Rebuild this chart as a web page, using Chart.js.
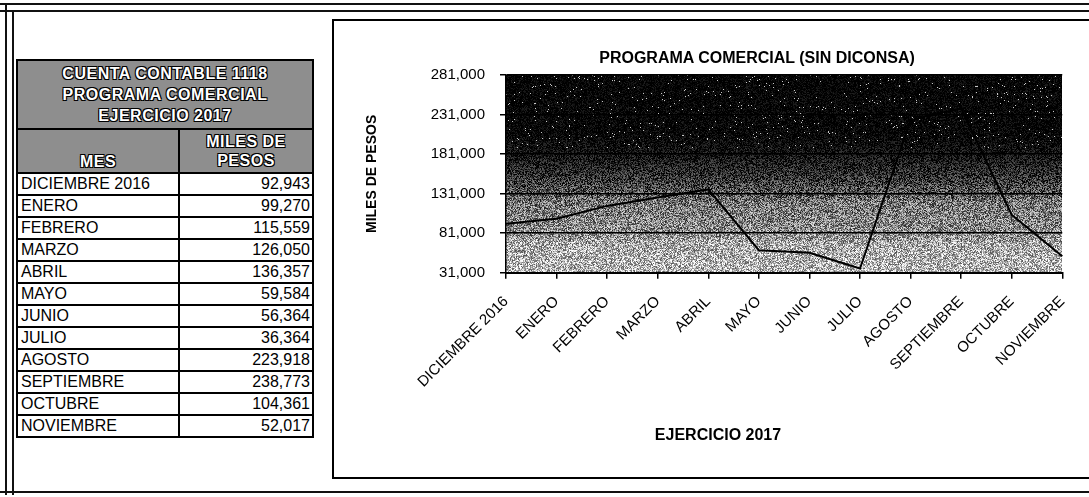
<!DOCTYPE html>
<html>
<head>
<meta charset="utf-8">
<script src="https://cdn.jsdelivr.net/npm/chart.js@4.4.1/dist/chart.umd.min.js"></script>
<style>
  body { margin: 0; background: #fff; width: 1089px; height: 497px; position: relative; overflow: hidden;
         font-family: "Liberation Sans", Arial, sans-serif; color: #000; }
  .linea { position: absolute; background: #111; }
  #caja { position: absolute; left: 332px; top: 19px; width: 770px; height: 460px; border: 2px solid #000; box-sizing: border-box; }
  #lienzo { position: absolute; left: 335px; top: 22px; width: 754px; height: 456px; }
  #titulo { position: absolute; left: 557px; width: 400px; top: 49px; text-align: center; font-weight: bold; font-size: 16px; }
  #tituloX { position: absolute; left: 618px; width: 200px; top: 426px; text-align: center; font-weight: bold; font-size: 16px; }
  table { position: absolute; left: 16px; top: 59px; border-collapse: collapse; font-size: 16px; }
  td { border: 2px solid #000; padding: 0 2px 0 3px; height: 20px; line-height: 20px; white-space: nowrap; }
  td.num { text-align: right; }
  th { border: 2px solid #000; background: #8e8e8e; color: #fff; font-weight: bold; font-size: 16px; letter-spacing: 0.5px;
       text-shadow: -1px -1px 0 #000, 1px -1px 0 #000, -1px 1px 0 #000, 1px 1px 0 #000; }
  th.cab { height: 65px; line-height: 21px; }
  th.sub { height: 40px; line-height: 19px; }
</style>
</head>
<body>
<div class="linea" style="left:0;top:3px;width:1089px;height:2px"></div>
<div class="linea" style="left:0;top:10px;width:1089px;height:2px"></div>
<div class="linea" style="left:5px;top:3px;width:2px;height:492px"></div>
<div class="linea" style="left:12px;top:10px;width:2px;height:485px"></div>
<div class="linea" style="left:0;top:491px;width:1089px;height:2px"></div>

<table id="tabla">
  <tr><th class="cab" colspan="2">CUENTA CONTABLE 1118<br>PROGRAMA COMERCIAL<br>EJERCICIO 2017</th></tr>
  <tr><th class="sub" style="width:158px;vertical-align:bottom">MES</th><th class="sub" style="width:130px">MILES DE<br>PESOS</th></tr>
</table>

<div id="caja"></div>
<div id="lienzo"><canvas id="grafica" width="754" height="456"></canvas></div>
<div id="titulo">PROGRAMA COMERCIAL (SIN DICONSA)</div>
<div id="tituloX">EJERCICIO 2017</div>

<script>
const meses = ["DICIEMBRE 2016", "ENERO", "FEBRERO", "MARZO", "ABRIL", "MAYO", "JUNIO",
  "JULIO", "AGOSTO", "SEPTIEMBRE", "OCTUBRE", "NOVIEMBRE"];
const milesDePesos = [92943, 99270, 115559, 126050, 136357, 59584, 56364,
  36364, 223918, 238773, 104361, 52017];
const ejeYMin = 31000;
const ejeYMax = 281000;
const ejeYPaso = 50000;

// filas de la tabla
const tabla = document.getElementById("tabla");
meses.forEach(function (mes, i) {
  const tr = document.createElement("tr");
  tr.innerHTML = "<td>" + mes + "</td><td class='num'>" + milesDePesos[i].toLocaleString("en-US") + "</td>";
  tabla.appendChild(tr);
});

// fondo oscuro con grano, como el escaneo
function ruido(x, y) {
  let h = (x * 374761393 + y * 668265263) | 0;
  h = Math.imul(h ^ (h >>> 13), 1274126177);
  return ((h ^ (h >>> 16)) >>> 0) / 4294967296;
}
const tonos = [[0, 0.0], [0.3, 0.01], [0.4, 0.07], [0.5, 0.18], [0.6, 0.34], [0.64, 0.46], [0.8, 0.55], [0.85, 0.66], [1, 0.72]];
function brillo(t) {
  for (let i = 1; i < tonos.length; i++) {
    if (t <= tonos[i][0]) {
      const a = tonos[i - 1], b = tonos[i];
      return a[1] + (b[1] - a[1]) * (t - a[0]) / (b[0] - a[0]);
    }
  }
  return tonos[tonos.length - 1][1];
}
const fondoPlot = {
  id: "fondoPlot",
  beforeDraw(chart) {
    const { ctx, chartArea: a } = chart;
    const w = Math.round(a.right - a.left), h = Math.round(a.bottom - a.top);
    const img = ctx.createImageData(w, h);
    for (let y = 0; y < h; y++) {
      const b = brillo(y / h);
      const amp = 60 + Math.min(1, b * 3) * 130;
      for (let x = 0; x < w; x++) {
        let v = b * 255 + (ruido(x, y) - 0.5) * amp;
        if (b < 0.05 && ruido(y, x) > 0.985) v = 200;
        v = Math.max(0, Math.min(255, v));
        const k = (y * w + x) * 4;
        img.data[k] = img.data[k + 1] = img.data[k + 2] = v;
        img.data[k + 3] = 255;
      }
    }
    ctx.putImageData(img, Math.round(a.left), Math.round(a.top));
  }
};

new Chart(document.getElementById("grafica"), {
  type: "line",
  data: {
    labels: meses,
    datasets: [{
      data: milesDePesos,
      borderColor: "#000",
      borderWidth: 2,
      pointRadius: 0,
      tension: 0,
      fill: false
    }]
  },
  options: {
    responsive: false,
    animation: false,
    layout: { padding: { left: 29, top: 53, right: 19, bottom: 73 } },
    plugins: { legend: { display: false }, tooltip: { enabled: false } },
    scales: {
      x: {
        grid: { drawOnChartArea: false, color: "#000", tickLength: 6, lineWidth: 1.5 },
        border: { color: "#000", width: 2 },
        ticks: { color: "#000", font: { family: "Liberation Sans", size: 15 }, minRotation: 45, maxRotation: 45, autoSkip: false, padding: 14 }
      },
      y: {
        min: ejeYMin,
        max: ejeYMax,
        afterFit(scale) { scale.width = 142; },
        grid: { color: "#000", tickLength: 6, lineWidth: 1.5 },
        border: { color: "#000", width: 1.5 },
        ticks: {
          stepSize: ejeYPaso,
          color: "#000",
          padding: 15,
          font: { family: "Liberation Sans", size: 15 },
          callback: v => v.toLocaleString("en-US")
        },
        title: { display: true, text: "MILES DE PESOS", color: "#000", padding: 0,
                 font: { family: "Liberation Sans", size: 14, weight: "bold" } }
      }
    }
  },
  plugins: [fondoPlot]
});
</script>
</body>
</html>
